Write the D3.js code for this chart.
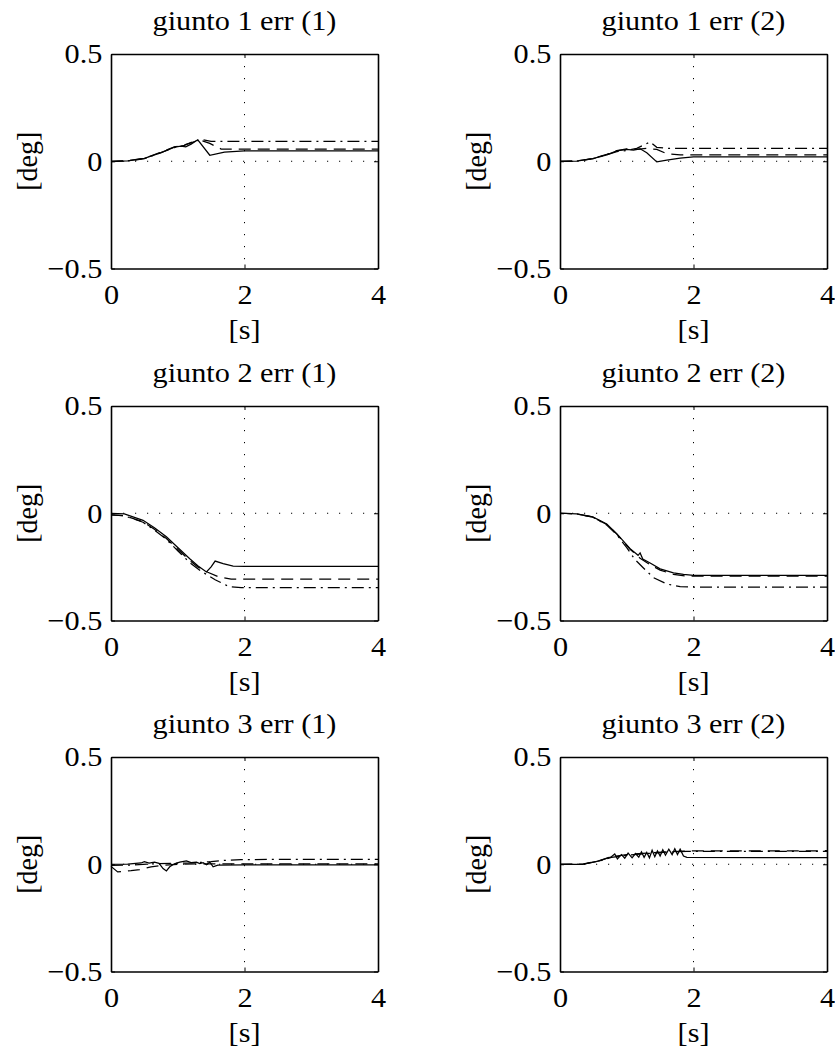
<!DOCTYPE html>
<html>
<head>
<meta charset="utf-8">
<script src="https://cdn.jsdelivr.net/npm/d3@7"></script>
<style>
  body { margin: 0; background: #fff; }
  svg { display: block; }
</style>
</head>
<body>
<div id="chart"></div>
<script>
// panel titles, row by row
var titles = ["giunto 1 err (1)", "giunto 1 err (2)",
              "giunto 2 err (1)", "giunto 2 err (2)",
              "giunto 3 err (1)", "giunto 3 err (2)"];

var xTicks = [0, 2, 4];
var yTicks = [-0.5, 0, 0.5];
var xLabel = "[s]";
var yLabel = "[deg]";

// [t (s), error (deg)]
var j1a_solid   = [[0,0],[0.25,0.002],[0.5,0.013],[0.75,0.04],[0.95,0.066],[1.05,0.07],[1.12,0.067],[1.2,0.08],[1.3,0.1],[1.48,0.028],[1.7,0.042],[2.0,0.048],[4,0.048]];
var j1a_dashed  = [[0,0],[0.25,0.002],[0.5,0.014],[0.75,0.042],[0.95,0.067],[1.05,0.072],[1.2,0.086],[1.32,0.1],[1.48,0.083],[1.65,0.057],[1.8,0.056],[4,0.056]];
var j1a_dashdot = [[0,-0.002],[0.25,0.001],[0.5,0.012],[0.75,0.04],[0.95,0.064],[1.1,0.074],[1.25,0.095],[1.38,0.1],[1.5,0.093],[4,0.093]];

var j1b_solid   = [[0,0],[0.25,0.001],[0.49,0.012],[0.7,0.03],[0.85,0.048],[1.0,0.055],[1.1,0.052],[1.2,0.058],[1.3,0.04],[1.45,-0.003],[1.6,0.005],[1.8,0.015],[2.0,0.02],[4,0.02]];
var j1b_dashed  = [[0,0],[0.25,0.002],[0.5,0.013],[0.7,0.032],[0.85,0.05],[1.0,0.058],[1.15,0.055],[1.3,0.06],[1.45,0.055],[1.6,0.035],[1.8,0.03],[4,0.03]];
var j1b_dashdot = [[0,-0.001],[0.25,0],[0.5,0.012],[0.7,0.03],[0.85,0.045],[1.0,0.05],[1.15,0.06],[1.35,0.09],[1.45,0.065],[1.6,0.06],[4,0.06]];

var j2a_solid   = [[0,0],[0.2,-0.003],[0.48,-0.033],[0.65,-0.068],[0.83,-0.11],[1.0,-0.16],[1.18,-0.212],[1.3,-0.245],[1.43,-0.274],[1.5,-0.25],[1.56,-0.223],[1.68,-0.235],[1.83,-0.246],[2.0,-0.248],[4,-0.248]];
var j2a_dashed  = [[0,-0.008],[0.2,-0.011],[0.48,-0.04],[0.65,-0.075],[0.83,-0.118],[1.0,-0.168],[1.18,-0.22],[1.3,-0.25],[1.45,-0.275],[1.6,-0.295],[1.8,-0.307],[4,-0.307]];
var j2a_dashdot = [[0,-0.008],[0.2,-0.012],[0.48,-0.042],[0.65,-0.078],[0.83,-0.122],[1.0,-0.175],[1.18,-0.23],[1.35,-0.27],[1.56,-0.31],[1.77,-0.342],[1.95,-0.347],[4,-0.347]];

var j2b_solid   = [[0,0],[0.25,-0.003],[0.49,-0.017],[0.7,-0.05],[0.85,-0.095],[1.05,-0.165],[1.17,-0.196],[1.2,-0.185],[1.24,-0.213],[1.35,-0.232],[1.5,-0.259],[1.7,-0.278],[1.85,-0.285],[2.0,-0.29],[4,-0.29]];
var j2b_dashed  = [[0,0],[0.25,-0.003],[0.49,-0.018],[0.7,-0.052],[0.85,-0.097],[1.05,-0.168],[1.2,-0.21],[1.35,-0.24],[1.5,-0.265],[1.7,-0.285],[1.9,-0.293],[4,-0.293]];
var j2b_dashdot = [[0,0],[0.25,-0.003],[0.49,-0.018],[0.7,-0.055],[0.85,-0.1],[1.0,-0.16],[1.12,-0.215],[1.25,-0.255],[1.4,-0.3],[1.6,-0.33],[1.8,-0.342],[2.0,-0.344],[4,-0.344]];

var j3a_solid   = [[0,0],[0.25,0.001],[0.45,0.006],[0.5,0.012],[0.57,0.005],[0.65,0.01],[0.72,0.004],[0.78,-0.02],[0.83,-0.031],[0.88,-0.012],[0.95,0.002],[1.03,0.01],[1.13,0.016],[1.2,0.008],[1.28,0.01],[1.33,0.003],[1.38,0.007],[1.43,-0.002],[1.48,0.01],[1.53,-0.012],[1.6,-0.004],[2.0,-0.003],[4,-0.003]];
var j3a_dashed  = [[0,-0.01],[0.1,-0.036],[0.3,-0.03],[0.43,-0.025],[0.6,-0.012],[0.8,-0.005],[1.0,0],[1.3,0.002],[1.6,0.002],[4,0.002]];
var j3a_dashdot = [[0,-0.005],[0.3,-0.004],[0.6,0.002],[0.9,0.004],[1.2,0.006],[1.5,0.012],[1.7,0.018],[1.95,0.022],[4,0.023]];

var j3b_solid   = [[0,0],[0.34,0],[0.59,0.016],[0.77,0.035],[0.82,0.048],[0.86,0.025],[0.92,0.045],[0.97,0.028],[1.02,0.052],[1.08,0.03],[1.13,0.05],[1.18,0.033],[1.22,0.058],[1.26,0.032],[1.3,0.055],[1.34,0.03],[1.38,0.065],[1.42,0.035],[1.46,0.062],[1.5,0.038],[1.54,0.068],[1.58,0.042],[1.63,0.07],[1.68,0.045],[1.72,0.072],[1.76,0.045],[1.8,0.07],[1.85,0.038],[1.9,0.032],[4,0.031]];
var j3b_dashed  = [[0,0],[0.34,0.001],[0.59,0.017],[0.77,0.035],[1.0,0.045],[1.3,0.052],[1.6,0.058],[1.9,0.062],[4,0.063]];
var j3b_dashdot = [[0,0],[0.34,0],[0.59,0.015],[0.77,0.032],[1.0,0.042],[1.3,0.05],[1.6,0.056],[1.9,0.06],[4,0.06]];

var panels = [
  [j1a_solid, j1a_dashed, j1a_dashdot], [j1b_solid, j1b_dashed, j1b_dashdot],
  [j2a_solid, j2a_dashed, j2a_dashdot], [j2b_solid, j2b_dashed, j2b_dashdot],
  [j3a_solid, j3a_dashed, j3a_dashdot], [j3b_solid, j3b_dashed, j3b_dashdot]
];
var dashes = [null, "12,7", "12,5,2,5"];

var W = 835, H = 1047;
var lefts = [111, 560], tops = [54, 406, 757];
var pw = 267, ph = 214.5;
var font = "'Liberation Serif', 'Times New Roman', Times, serif";
var fs = 28, stretch = 1.08;

var svg = d3.select("#chart").append("svg")
    .attr("width", W)
    .attr("height", H);

function label(g, x, y, txt, anchor, rot) {
  g.append("text")
    .attr("transform", "translate(" + x + "," + y + ") scale(" + stretch + ",1)" + (rot ? " rotate(-90)" : ""))
    .attr("text-anchor", anchor)
    .attr("font-family", font)
    .attr("font-size", fs + "px")
    .attr("fill", "#000")
    .text(txt);
}

panels.forEach(function(series, i) {
  var col = i % 2, row = Math.floor(i / 2);
  var g = svg.append("g")
    .attr("transform", "translate(" + lefts[col] + "," + tops[row] + ")");

  var x = d3.scaleLinear().domain([0, 4]).range([0, pw]);
  var y = d3.scaleLinear().domain([-0.5, 0.5]).range([ph, 0]);

  // dotted grid at x = 2, y = 0
  g.append("line")
    .attr("x1", x(2)).attr("x2", x(2)).attr("y1", 0).attr("y2", ph)
    .attr("stroke", "#000").attr("stroke-width", 1).attr("stroke-dasharray", "1.2,10.8");
  g.append("line")
    .attr("x1", 0).attr("x2", pw).attr("y1", y(0)).attr("y2", y(0))
    .attr("stroke", "#000").attr("stroke-width", 1).attr("stroke-dasharray", "1.2,10.8");

  var line = d3.line()
    .x(function(d) { return x(d[0]); })
    .y(function(d) { return y(d[1]); });

  series.forEach(function(s, k) {
    g.append("path")
      .attr("d", line(s))
      .attr("fill", "none")
      .attr("stroke", "#000")
      .attr("stroke-width", 1.25)
      .attr("stroke-dasharray", dashes[k]);
  });

  // axes, ticks pointing in
  g.append("g")
    .attr("transform", "translate(0," + ph + ")")
    .call(d3.axisBottom(x).tickValues(xTicks).tickSizeInner(-4).tickSizeOuter(0).tickPadding(16)
      .tickFormat(d3.format("d")));
  g.append("g")
    .call(d3.axisLeft(y).tickValues(yTicks).tickSizeInner(-4).tickSizeOuter(0).tickPadding(8)
      .tickFormat(function(d) { return d === 0 ? "0" : (d < 0 ? "\u2212" : "") + Math.abs(d); }));
  g.append("g")
    .call(d3.axisTop(x).tickValues(xTicks).tickSizeInner(-4).tickSizeOuter(0).tickFormat(""));
  g.append("g")
    .attr("transform", "translate(" + pw + ",0)")
    .call(d3.axisRight(y).tickValues(yTicks).tickSizeInner(-4).tickSizeOuter(0).tickFormat(""));

  g.selectAll(".domain").attr("stroke", "#000").attr("stroke-width", 1.6);
  g.selectAll(".tick line").attr("stroke", "#000").attr("stroke-width", 1);
  g.selectAll(".tick text")
    .attr("font-family", font)
    .attr("font-size", fs + "px")
    .attr("fill", "#000")
    .attr("transform", "scale(" + stretch + ",1)");

  label(g, pw / 2, -24, titles[i], "middle", false);
  label(g, pw / 2, ph + 70, xLabel, "middle", false);
  label(g, 37 - 111, ph / 2, yLabel, "middle", true);
});
</script>
</body>
</html>
